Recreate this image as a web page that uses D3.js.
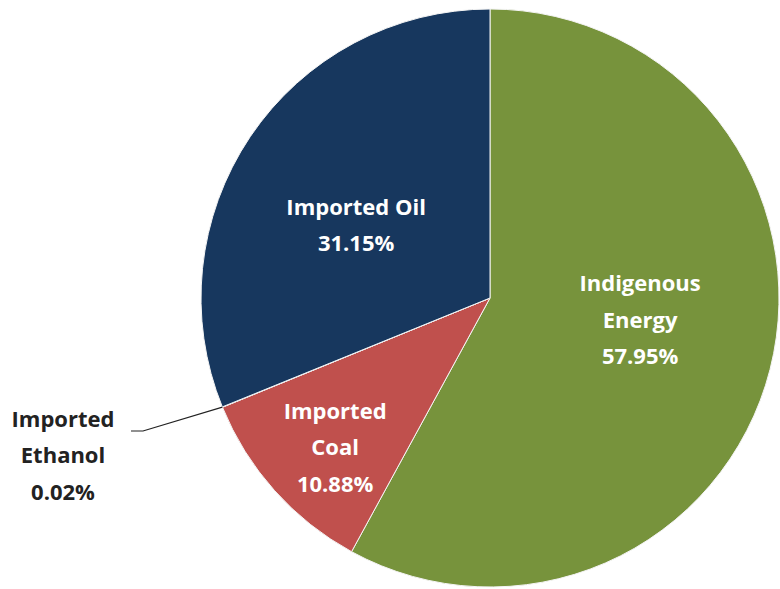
<!DOCTYPE html>
<html>
<head>
<meta charset="utf-8">
<script src="https://cdn.jsdelivr.net/npm/d3@7"></script>
<style>
  body { margin: 0; background: #fff; }
  text { font-family: "Open Sans", "Noto Sans", sans-serif; font-weight: bold; }
</style>
</head>
<body>
<svg id="chart" width="780" height="589"></svg>
<script>
// データ
const categories = ["Indigenous Energy", "Imported Coal", "Imported Ethanol", "Imported Oil"];
const shares = [57.95, 10.88, 0.02, 31.15];
const colors = ["#77933C", "#C0504D", "#4F81BD", "#17375E"];
const labelLines = [
  ["Indigenous", "Energy", "57.95%"],
  ["Imported", "Coal", "10.88%"],
  ["Imported", "Ethanol", "0.02%"],
  ["Imported Oil", "31.15%"]
];

const svg = d3.select("#chart");
const cx = 490, cy = 298, r = 289;
const g = svg.append("g").attr("transform", `translate(${cx},${cy})`);

const data = categories.map((c, i) => ({ name: c, value: shares[i], color: colors[i], lines: labelLines[i] }));

const pie = d3.pie().value(d => d.value).sort(null);
const arcs = pie(data);
const arc = d3.arc().innerRadius(0).outerRadius(r);

g.selectAll("path.slice")
  .data(arcs)
  .enter()
  .append("path")
  .attr("class", "slice")
  .attr("d", arc)
  .attr("fill", d => d.data.color)
  .attr("stroke", "#f4f4f4")
  .attr("stroke-width", 1);

// ラベル中心（スライス中心角からの極座標：半径比, 角度オフセット[rad]）
const labelPolar = [[0.525, -0.105], [0.744, -0.037], null, [0.528, -0.092]];
const lineH = 36.5;
const fontPx = 22;

function addLabel(x, y, lines, fill) {
  const t = g.append("text")
    .attr("text-anchor", "middle")
    .attr("fill", fill)
    .style("font-size", fontPx + "px");
  lines.forEach((ln, k) => {
    t.append("tspan")
      .attr("x", x)
      .attr("y", y + (k - (lines.length - 1) / 2) * lineH + 8)
      .text(ln);
  });
}

arcs.forEach((a, i) => {
  if (!labelPolar[i]) return;
  const mid = (a.startAngle + a.endAngle) / 2 + labelPolar[i][1];
  const lr = r * labelPolar[i][0];
  addLabel(lr * Math.sin(mid), -lr * Math.cos(mid), a.data.lines, "#fff");
});

// エタノールの外部ラベルと引き出し線
const eth = arcs[2];
const ethMid = (eth.startAngle + eth.endAngle) / 2;
const px = r * Math.sin(ethMid), py = -r * Math.cos(ethMid);
const lx = 63 - cx, ly = 455 - cy;
g.append("polyline")
  .attr("points", [[lx + 68, ly - 24], [lx + 80, ly - 24], [px, py]].map(p => p.join(",")).join(" "))
  .attr("fill", "none")
  .attr("stroke", "#222")
  .attr("stroke-width", 1.2);

addLabel(lx, ly, eth.data.lines, "#222");
</script>
</body>
</html>
